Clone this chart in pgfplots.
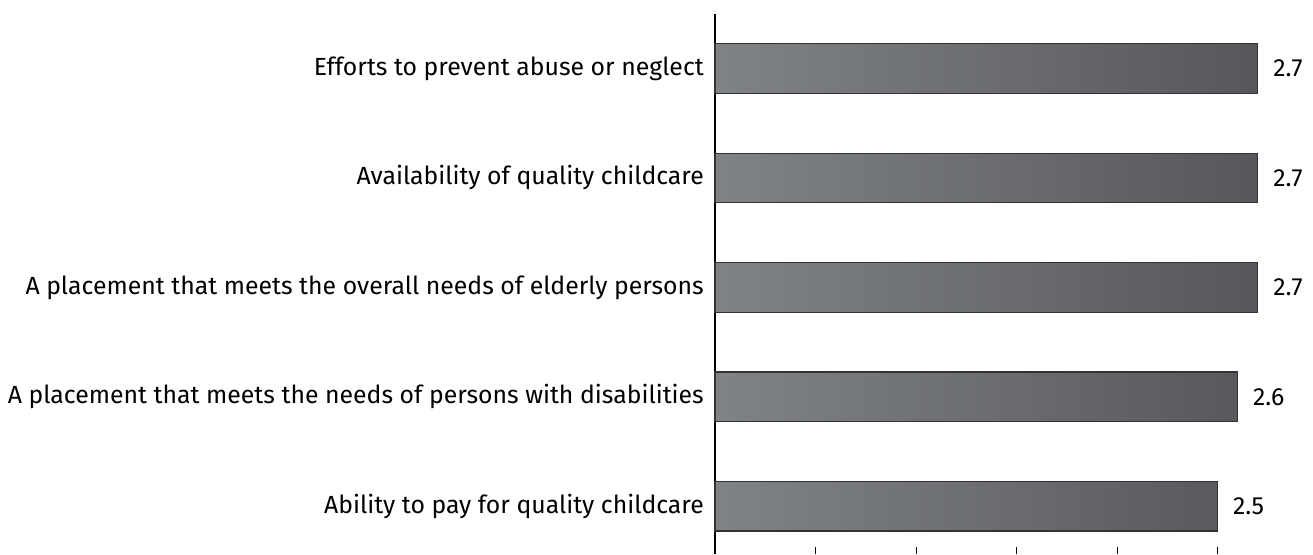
\documentclass[border=0pt]{standalone}
\usepackage{pgfplots}
\pgfplotsset{compat=1.18}
\usepackage{fontspec}
\setmainfont{Fira Sans}
\definecolor{barL}{HTML}{808386}
\definecolor{barR}{HTML}{56575A}
\definecolor{barE}{HTML}{333333}
\begin{document}
\begin{tikzpicture}
\begin{axis}[
  scale only axis,
  width=598bp, height=540bp,
  xmin=0, xmax=2.975,
  ymin=-0.436, ymax=4.498,
  axis lines*=left,
  x axis line style={draw=none},
  axis line style={line width=1.2bp, black},
  clip=false,
  xtick={0,0.5,1,1.5,2,2.5},
  xticklabels={},
  xticklabel style={overlay, opacity=0},
  xtick align=inside,
  xtick style={black, line width=1bp},
  major tick length=7bp,
  ytick={0,1,2,3,4},
  yticklabels={Ability to pay for quality childcare,
               A placement that meets the needs of persons with disabilities,
               A placement that meets the overall needs of elderly persons,
               Availability of quality childcare,
               Efforts to prevent abuse or neglect},
  ytick style={draw=none},
  yticklabel style={font=\fontsize{24.8bp}{28bp}\selectfont, inner sep=0pt, xshift=-4bp, anchor=east},
  /pgf/number format/assume math mode=true,
  xbar,
  bar width=49.5bp,
  nodes near coords={\pgfmathprintnumber[fixed,fixed zerofill,precision=1]{\pgfplotspointmeta}},
  nodes near coords align={horizontal},
  every node near coord/.append style={font=\fontsize{24.8bp}{28bp}\selectfont, anchor=west, inner sep=0pt, xshift=15bp, black},
]
\addplot[draw=barE, line width=1.2bp, left color=barL, right color=barR] coordinates {
  (2.5,0) (2.6,1) (2.7,2) (2.7,3) (2.7,4)
};
\path (rel axis cs:1,1) ++(0bp,14bp) rectangle ++(-1313bp,-554bp);
\end{axis}
\end{tikzpicture}
\end{document}
